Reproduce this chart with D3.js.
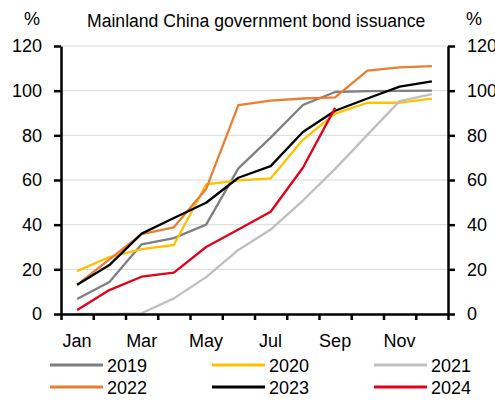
<!DOCTYPE html>
<html>
<head>
<meta charset="utf-8">
<script src="https://cdn.jsdelivr.net/npm/d3@7"></script>
<style>
  body { margin: 0; background: #fff; }
  svg { display: block; font-family: "Liberation Sans", Arial, sans-serif; }
</style>
</head>
<body>
<svg width="495" height="401"></svg>
<script>
// Data (% of annual quota issued, cumulative).
var months = ["Jan", "Feb", "Mar", "Apr", "May", "Jun", "Jul", "Aug", "Sep", "Oct", "Nov", "Dec"];
var monthLabels = ["Jan", "Mar", "May", "Jul", "Sep", "Nov"];
var yTicks = [0, 20, 40, 60, 80, 100, 120];

var s2019 = [6.7, 14.3, 31.2, 34, 40, 65.2, 79, 93.6, 99.4, 99.8, 99.9, 100];
var s2020 = [19.2, 25.5, 29, 30.9, 58, 59.8, 60.7, 78, 89.7, 94.6, 94.6, 96.4];
var s2021 = [0, 0, 0.3, 7, 16.5, 28.7, 37.8, 50.8, 65, 80.2, 95.3, 98.4];
var s2022 = [13, 24.5, 35.8, 38.8, 56, 93.5, 95.5, 96.5, 97, 109, 110.4, 111];
var s2023 = [13.1, 21.9, 36, 43, 49.8, 61, 66.2, 81.5, 91, 96.5, 101.8, 104.2];
var s2024 = [1.8, 10.7, 16.7, 18.5, 30, 37.8, 45.8, 65.5, 92.3];

var seriesNames = ["2019", "2020", "2021", "2022", "2023", "2024"];
var seriesColors = ["#7f7f7f", "#ffc000", "#bfbfbf", "#ed7d31", "#000000", "#e3001b"];
var seriesValues = [s2019, s2020, s2021, s2022, s2023, s2024];

var svg = d3.select("svg");
// plot box (avoid the name "top", it is window.top)
var plotLeft = 61, plotRight = 448, plotTop = 46, plotBottom = 314;

var x = d3.scaleLinear().domain([0, 12]).range([plotLeft, plotRight]);
var y = d3.scaleLinear().domain([0, 120]).range([plotBottom, plotTop]);

// Gridlines
svg.append("g")
  .selectAll("line")
  .data(yTicks.filter(function(d) { return d > 0; }))
  .enter().append("line")
    .attr("x1", plotLeft).attr("x2", plotRight)
    .attr("y1", function(d) { return y(d); })
    .attr("y2", function(d) { return y(d); })
    .attr("stroke", "#d9d9d9")
    .attr("stroke-width", 1);

// Lines
var line = d3.line()
    .x(function(d, i) { return x(i + 0.5); })
    .y(function(d) { return y(d); });

svg.append("g")
  .selectAll("path")
  .data(seriesValues)
  .enter().append("path")
    .attr("d", line)
    .attr("fill", "none")
    .attr("stroke", function(d, i) { return seriesColors[i]; })
    .attr("stroke-width", 2.3)
    .attr("stroke-linejoin", "round");

// Axes
var leftAxis = svg.append("g")
    .attr("transform", "translate(" + plotLeft + ",0)")
    .call(d3.axisLeft(y).tickValues(yTicks).tickSize(7).tickPadding(12).tickSizeOuter(0));
var rightAxis = svg.append("g")
    .attr("transform", "translate(" + plotRight + ",0)")
    .call(d3.axisRight(y).tickValues(yTicks).tickSize(7).tickPadding(12).tickSizeOuter(0));
var bottomAxis = svg.append("g")
    .attr("transform", "translate(0," + plotBottom + ")")
    .call(d3.axisBottom(x).tickValues(d3.range(13)).tickSize(6).tickFormat("").tickSizeOuter(0));

[leftAxis, rightAxis, bottomAxis].forEach(function(a) {
  a.selectAll("path.domain").attr("stroke", "#000").attr("stroke-width", 2.5);
  a.selectAll(".tick line").attr("stroke", "#000").attr("stroke-width", 2.5);
  a.selectAll(".tick text")
    .attr("fill", "#000")
    .style("font-size", "18px")
    .style("font-family", "Liberation Sans, Arial, sans-serif");
});

// Month labels centred on each month's slot
svg.append("g")
  .selectAll("text")
  .data(monthLabels)
  .enter().append("text")
    .attr("x", function(d) { return x(months.indexOf(d) + 0.5); })
    .attr("y", 347)
    .attr("text-anchor", "middle")
    .style("font-size", "18px")
    .text(function(d) { return d; });

// Title and unit labels
svg.append("text").attr("x", 87).attr("y", 27)
    .style("font-size", "17.6px").text("Mainland China government bond issuance");
svg.append("text").attr("x", 24).attr("y", 25)
    .style("font-size", "18px").text("%");
svg.append("text").attr("x", 466).attr("y", 25)
    .style("font-size", "18px").text("%");

// Legend
var legendX = [50, 212, 374];
var legendY = [365, 387];
var legend = svg.append("g")
  .selectAll("g")
  .data(seriesNames)
  .enter().append("g")
    .attr("transform", function(d, i) {
      return "translate(" + legendX[i % 3] + "," + legendY[Math.floor(i / 3)] + ")";
    });
legend.append("line")
    .attr("x1", 0).attr("x2", 53)
    .attr("stroke", function(d, i) { return seriesColors[i]; })
    .attr("stroke-width", 3);
legend.append("text")
    .attr("x", 57).attr("y", 7)
    .style("font-size", "18px")
    .text(function(d) { return d; });
</script>
</body>
</html>
